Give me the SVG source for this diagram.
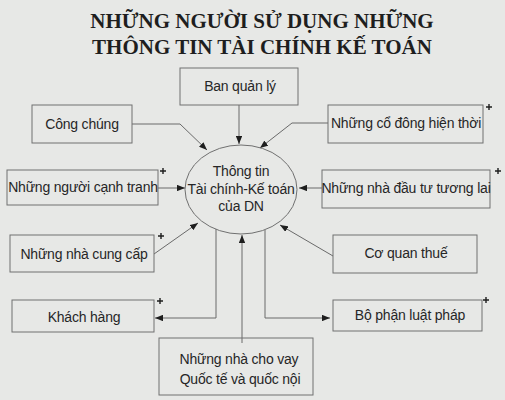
<svg xmlns="http://www.w3.org/2000/svg" width="505" height="400" viewBox="0 0 505 400">
<defs>
<style>
.bg{fill:#e7e8e6}
.title{font-family:"Liberation Serif","Times New Roman",serif;font-weight:bold;font-size:21px;fill:#1e1e1e;text-anchor:middle}
.box{fill:none;stroke:#707070;stroke-width:1}
.lbl{font-family:"Liberation Sans",Arial,sans-serif;font-size:14px;letter-spacing:-0.2px;fill:#262626;text-anchor:middle}
.edge{fill:none;stroke:#6a6a6a;stroke-width:1}
.plus{stroke:#1e1e1e;stroke-width:1.4;fill:none}
</style>
<marker id="ah" viewBox="0 0 10 8" refX="10" refY="4" markerWidth="8" markerHeight="6.5" markerUnits="userSpaceOnUse" orient="auto">
<path d="M0,0 L10,4 L0,8 Z" fill="#1e1e1e"/>
</marker>
</defs>
<rect class="bg" x="0" y="0" width="505" height="400"/>
<g id="title">
<text class="title" x="262" y="28">NHỮNG NGƯỜI SỬ DỤNG NHỮNG</text>
<text class="title" x="262" y="54">THÔNG TIN TÀI CHÍNH KẾ TOÁN</text>
</g>
<g id="connectors">
<path class="edge" d="M239,105 L239,144" marker-end="url(#ah)"/>
<path class="edge" d="M132,124 L180,124 L207,150" marker-end="url(#ah)"/>
<path class="edge" d="M328,123 L292,123 L260,148" marker-end="url(#ah)"/>
<path class="edge" d="M158,188 L185,188" marker-end="url(#ah)"/>
<path class="edge" d="M322,188 L299,188" marker-end="url(#ah)"/>
<path class="edge" d="M154,254 L198,223" marker-end="url(#ah)"/>
<path class="edge" d="M333,256 L280,225" marker-end="url(#ah)"/>
<path class="edge" d="M216,229 L216,318 L155,318" marker-end="url(#ah)"/>
<path class="edge" d="M265,230 L265,318 L330,318" marker-end="url(#ah)"/>
<path class="edge" d="M242,343 L242,235" marker-end="url(#ah)"/>
</g>
<g id="center">
<ellipse class="box" cx="241" cy="189.5" rx="56" ry="44.5"/>
<text class="lbl" x="241" y="176">Thông tin</text>
<text class="lbl" x="241" y="194">Tài chính-Kế toán</text>
<text class="lbl" x="241" y="211">của DN</text>
</g>
<g id="ban-quan-ly">
<rect class="box" x="180" y="68" width="118" height="37"/>
<text class="lbl" x="240" y="91">Ban quản lý</text>
</g>
<g id="cong-chung">
<rect class="box" x="32" y="105" width="100" height="38"/>
<text class="lbl" x="82" y="129">Công chúng</text>
</g>
<g id="co-dong">
<rect class="box" x="328" y="105" width="155" height="38"/>
<text class="lbl" x="406" y="128">Những cổ đông hiện thời</text>
<path class="plus" d="M486,107 h6 M489,104 v6"/>
</g>
<g id="canh-tranh">
<rect class="box" x="7" y="170" width="151" height="35"/>
<text class="lbl" x="83" y="192">Những người cạnh tranh</text>
<path class="plus" d="M160,171 h6 M163,168 v6"/>
</g>
<g id="dau-tu">
<rect class="box" x="322" y="170" width="168" height="38"/>
<text class="lbl" x="406" y="193">Những nhà đầu tư tương lai</text>
<path class="plus" d="M495,171 h6 M498,168 v6"/>
</g>
<g id="cung-cap">
<rect class="box" x="10" y="235" width="144" height="37"/>
<text class="lbl" x="84" y="259">Những nhà cung cấp</text>
<path class="plus" d="M158,236 h6 M161,233 v6"/>
</g>
<g id="co-quan-thue">
<rect class="box" x="333" y="235" width="144" height="38"/>
<text class="lbl" x="406" y="258">Cơ quan thuế</text>
</g>
<g id="khach-hang">
<rect class="box" x="12" y="300" width="142" height="32"/>
<text class="lbl" x="84" y="322">Khách hàng</text>
<path class="plus" d="M157,301 h6 M160,298 v6"/>
</g>
<g id="bo-phan-luat-phap">
<rect class="box" x="333" y="300" width="149" height="31"/>
<text class="lbl" x="410" y="320">Bộ phận luật pháp</text>
<path class="plus" d="M483,300 h6 M486,297 v6"/>
</g>
<g id="nha-cho-vay">
<rect class="box" x="159" y="338" width="154" height="57"/>
<text class="lbl" x="239" y="364">Những nhà cho vay</text>
<text class="lbl" x="240" y="384">Quốc tế và quốc nội</text>
</g>
</svg>
